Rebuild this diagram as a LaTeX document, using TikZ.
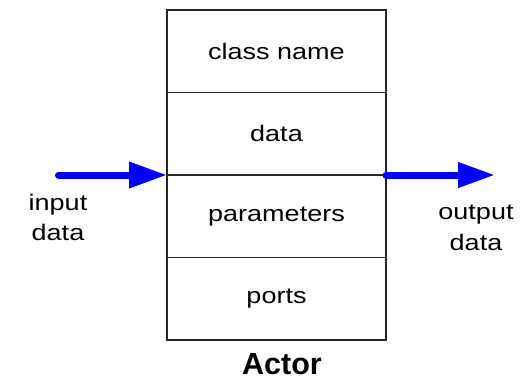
\documentclass[tikz,border=0pt]{standalone}
\usepackage{fontspec}
\setmainfont{Liberation Sans}[FakeStretch=1.2]
\newfontfamily\actorfont{Liberation Sans}
\usetikzlibrary{arrows.meta}
\begin{document}
\begin{tikzpicture}[x=1pt,y=-1pt,
  row/.style={draw=black!85,line width=1.3pt,minimum width=219pt,minimum height=82.5pt,inner sep=0pt,outer sep=0pt,
    font=\fontsize{22.5}{26}\selectfont},
  flow/.style={draw={rgb,255:red,0;green,0;blue,255},line width=7pt,line cap=round},
  lbl/.style={inner sep=0pt,align=center,anchor=south}]
\useasboundingbox (0,0) rectangle (523,380);
\node[row] (cls) at (276.5,51.25) {class name};
\node[row] (dat) at (276.5,133.75) {data};
\node[row] (par) at (276.5,216.25) {parameters};
\node[row] (prt) at (276.5,298.75) {ports};
\node[inner sep=0pt,anchor=base,font=\actorfont\bfseries\fontsize{30.5}{34}\selectfont] (act) at (282,374.5) {Actor};
\coordinate (inS) at (58.5,175);
\coordinate (outE) at (495,175);
\draw[flow,-{Triangle[length=38pt,width=25pt]}] (inS) -- (dat.south west);
\draw[flow,-{Triangle[length=37pt,width=24pt]}] (dat.south east) -- (outE);
\node[lbl,font=\fontsize{22.5}{30}\selectfont] (inl) at (58,241) {input\\data};
\node[lbl,font=\fontsize{22.5}{31}\selectfont] (outl) at (476,251) {output\\data};
\end{tikzpicture}
\end{document}
